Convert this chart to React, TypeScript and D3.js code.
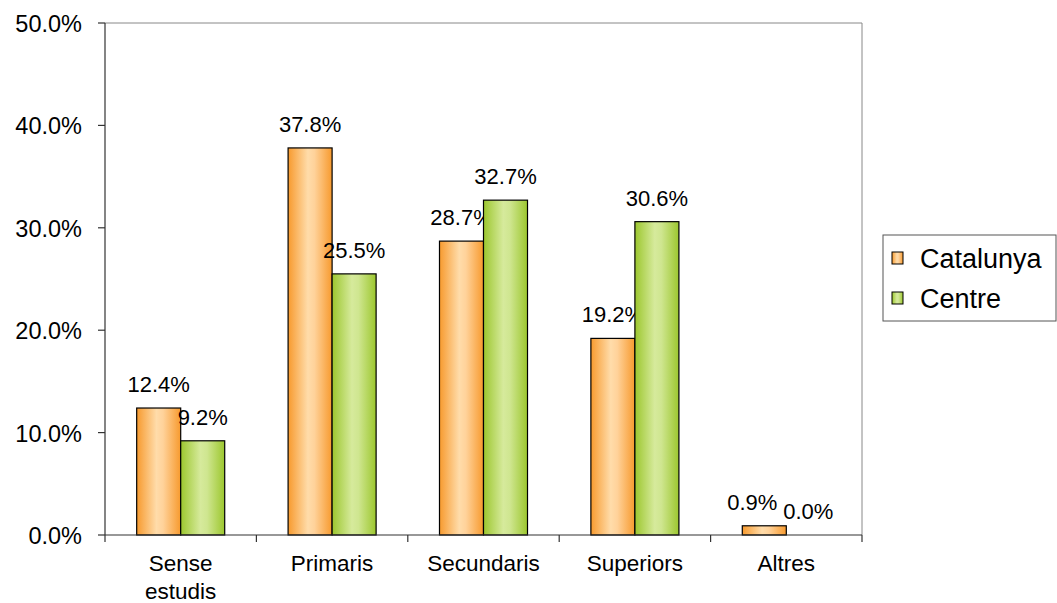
import React from "react";
import * as d3 from "d3";

const categories = ["Sense estudis", "Primaris", "Secundaris", "Superiors", "Altres"];
const seriesNames = ["Catalunya", "Centre"];
const catalunya = [12.4, 37.8, 28.7, 19.2, 0.9];
const centre = [9.2, 25.5, 32.7, 30.6, 0.0];
const yTicks = [0, 10, 20, 30, 40, 50];

const W = 1057, H = 603;
const left = 105, right = 862, top = 23, bottom = 535;
const font = "'Liberation Sans', Arial, sans-serif";

export default function App() {
  const x0 = d3.scaleBand().domain(categories).range([left, right]).paddingInner(0).paddingOuter(0);
  const x1 = d3.scaleBand().domain(seriesNames).range([0, x0.bandwidth()]).paddingOuter(0.72).paddingInner(0);
  const y = d3.scaleLinear().domain([0, 50]).range([bottom, top]);
  const data = [catalunya, centre];
  const grads = ["gOrange", "gGreen"];
  const boundaries = categories.map((c) => x0(c)!).concat([right]);

  return (
    <svg width={W} height={H} style={{ position: "absolute", left: 0, top: 0, background: "#fff" }}>
      <defs>
        <linearGradient id="gOrange" x1="0" x2="1" y1="0" y2="0">
          <stop offset="0" stopColor="#F79A2E" />
          <stop offset="0.45" stopColor="#FFDCAA" />
          <stop offset="0.6" stopColor="#FFD29A" />
          <stop offset="1" stopColor="#F79A2E" />
        </linearGradient>
        <linearGradient id="gGreen" x1="0" x2="1" y1="0" y2="0">
          <stop offset="0" stopColor="#9CC72E" />
          <stop offset="0.45" stopColor="#D6EA9C" />
          <stop offset="0.6" stopColor="#CFE690" />
          <stop offset="1" stopColor="#9CC72E" />
        </linearGradient>
      </defs>
      <line x1={left} x2={right} y1={top} y2={top} stroke="#888" strokeWidth={1} />
      <line x1={right} x2={right} y1={top} y2={bottom} stroke="#888" strokeWidth={1} />
      {categories.map((c, i) =>
        seriesNames.map((s, j) => {
          const v = data[j][i];
          const bx = x0(c)! + x1(s)!;
          const bw = x1.bandwidth();
          const by = y(v);
          // nudge the first series label left when it would collide with its neighbour
          const other = data[1 - j][i];
          const close = Math.abs(y(other) - by) < 22;
          const dx = j === 0 && close ? -12 : 0;
          return (
            <g key={c + s}>
              {v > 0 && (
                <rect x={bx} y={by} width={bw} height={bottom - by} fill={`url(#${grads[j]})`} stroke="#000" strokeWidth={1.2} />
              )}
              <text x={bx + bw / 2 + dx} y={by - 16} textAnchor="middle" fontFamily={font} fontSize={22} fill="#000">
                {v.toFixed(1)}%
              </text>
            </g>
          );
        })
      )}
      <line x1={left} x2={left} y1={top} y2={bottom} stroke="#333" strokeWidth={1.2} />
      {yTicks.map((t) => (
        <g key={t}>
          <line x1={left - 7} x2={left} y1={y(t)} y2={y(t)} stroke="#333" strokeWidth={1.2} />
          <text x={left - 23} y={y(t) + 9} textAnchor="end" fontFamily={font} fontSize={23.5} fill="#000">
            {t.toFixed(1)}%
          </text>
        </g>
      ))}
      <line x1={left} x2={right} y1={bottom} y2={bottom} stroke="#333" strokeWidth={1.2} />
      {boundaries.map((b, i) => (
        <line key={i} x1={b} x2={b} y1={bottom} y2={bottom + 7} stroke="#333" strokeWidth={1.2} />
      ))}
      {categories.map((c) => {
        const cx = x0(c)! + x0.bandwidth() / 2;
        const words = c === "Sense estudis" ? ["Sense", "estudis"] : [c];
        return (
          <text key={c} textAnchor="middle" fontFamily={font} fontSize={22.5} fill="#000">
            {words.map((w, k) => (
              <tspan key={k} x={cx} y={571 + k * 28}>{w}</tspan>
            ))}
          </text>
        );
      })}
      <rect x={883} y={235} width={173} height={86} fill="#fff" stroke="#555" strokeWidth={1} />
      {seriesNames.map((s, j) => (
        <g key={s}>
          <rect x={892} y={252 + j * 40} width={11} height={12} fill={`url(#${grads[j]})`} stroke="#000" strokeWidth={1} />
          <text x={920} y={268 + j * 40} fontFamily={font} fontSize={27} fill="#000">{s}</text>
        </g>
      ))}
    </svg>
  );
}
